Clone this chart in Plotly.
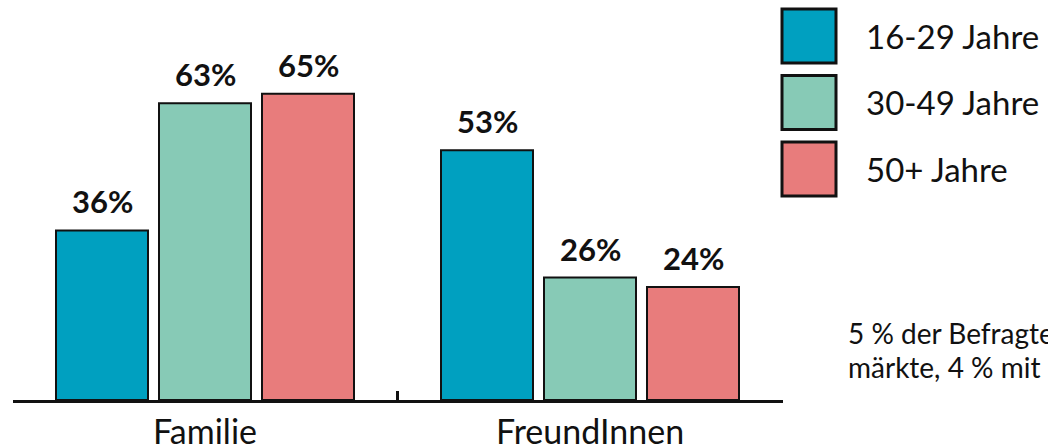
import plotly.graph_objects as go

categories = ["Familie", "FreundInnen"]
series_names = ["16-29 Jahre", "30-49 Jahre", "50+ Jahre"]
values_16_29 = [36, 53]
values_30_49 = [63, 26]
values_50plus = [65, 24]
series_values = [values_16_29, values_30_49, values_50plus]
colors = ["#00A0C0", "#87CAB6", "#E87C7C"]
note_lines = ["5 % der Befragten nannten Wochen-", "märkte, 4 % mit Freunden"]

W, H = 1048, 445
B = 45
PH = H - B
dom = [12.5 / W, 782.5 / W]
band_px = 385.0
slot = 103.0 / band_px
bar_w = 92.0 / band_px
px_per_pct = 4.71

FONT = "Lato"


def py(p):
    """pixel y from top -> paper y"""
    return 1 - p / PH


fig = go.Figure()
for j, (name, vals, col) in enumerate(zip(series_names, series_values, colors)):
    xs = [i + (j - 1) * slot for i in range(len(categories))]
    fig.add_trace(go.Bar(
        x=xs, y=vals, width=bar_w, name=name,
        marker=dict(color=col, line=dict(color="#111111", width=2)),
        showlegend=False, hoverinfo="skip",
    ))
    for xv, v in zip(xs, vals):
        fig.add_annotation(
            x=xv, y=v, xref="x", yref="y", text=f"<b>{v}%</b>",
            showarrow=False, yanchor="bottom", yshift=8,
            font=dict(family=FONT, size=31, color="#111111"),
        )

# custom legend
for j, (name, col) in enumerate(zip(series_names, colors)):
    top = 9 + j * 66.5
    fig.add_shape(
        type="rect", xref="paper", yref="paper",
        x0=782 / W, x1=836 / W, y0=py(top + 54), y1=py(top),
        fillcolor=col, line=dict(color="#111111", width=3),
    )
    fig.add_annotation(
        x=864 / W, y=py(top + 27), xref="paper", yref="paper",
        text=name, showarrow=False, xanchor="left", yanchor="middle",
        font=dict(family=FONT, size=33, color="#111111"),
    )

for k, line in enumerate(note_lines):
    fig.add_annotation(
        x=846 / W, y=py(333 + 34 * k), xref="paper", yref="paper",
        text=line, showarrow=False, xanchor="left", yanchor="middle",
        font=dict(family=FONT, size=28, color="#111111"),
    )

fig.update_layout(
    width=W, height=H, autosize=False,
    margin=dict(l=0, r=0, t=0, b=B),
    plot_bgcolor="white", paper_bgcolor="white",
    barmode="overlay",
    xaxis=dict(
        domain=dom, range=[-0.5, 1.5], tickmode="array",
        tickvals=list(range(len(categories))), ticktext=categories,
        ticks="", showline=True, linecolor="#111111", linewidth=3,
        showgrid=False, zeroline=False, automargin=False,
        tickfont=dict(family=FONT, size=34, color="#111111"),
        fixedrange=True,
    ),
    xaxis2=dict(
        domain=dom, range=[-0.5, 1.5], overlaying="x", anchor="y",
        tickmode="array", tickvals=[0.5], ticktext=[""],
        ticks="inside", ticklen=9, tickwidth=3, tickcolor="#111111",
        showline=False, showgrid=False, zeroline=False, side="bottom",
        automargin=False,
    ),
    yaxis=dict(range=[0, PH / px_per_pct], visible=False, fixedrange=True,
               automargin=False),
)
# invisible point to activate xaxis2
fig.add_trace(go.Scatter(x=[0.5], y=[0], xaxis="x2", mode="markers",
                         marker=dict(opacity=0), showlegend=False, hoverinfo="skip"))

fig.write_html(
    "out.html",
    config={"displayModeBar": False},
    post_script="document.body.style.margin='0';document.body.style.overflow='hidden';",
)
